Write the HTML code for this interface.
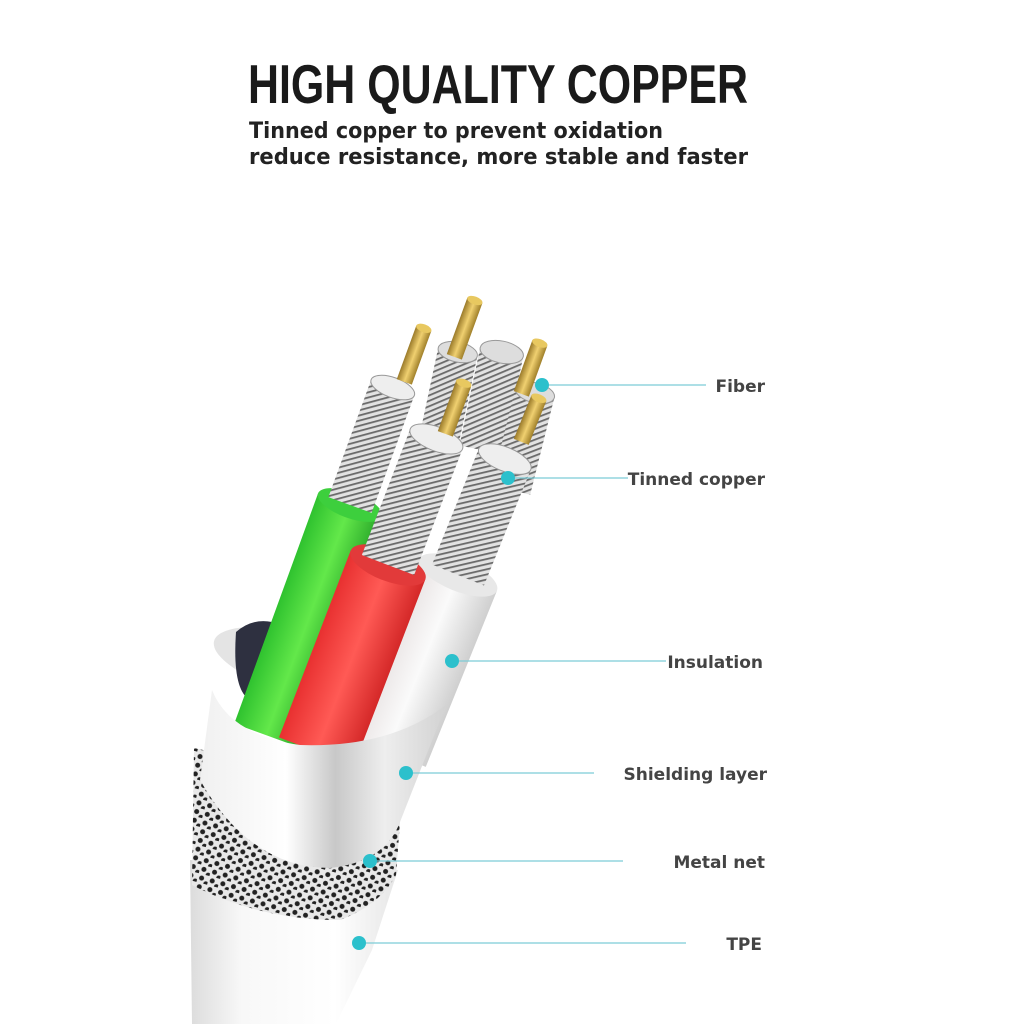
<!DOCTYPE html>
<html><head><meta charset="utf-8"><style>
html,body{margin:0;padding:0;background:#fff;}
svg{display:block;}
</style></head><body>
<svg width="1024" height="1024" viewBox="0 0 1024 1024" xmlns="http://www.w3.org/2000/svg">
<defs>
<pattern id="hatch" width="5" height="5" patternUnits="userSpaceOnUse" patternTransform="rotate(-35)">
<rect width="5" height="5" fill="#e2e2e2"/><rect width="5" height="1.8" fill="#6a6a6a"/>
</pattern>
<pattern id="dots" width="11" height="9" patternUnits="userSpaceOnUse" patternTransform="rotate(15)">
<rect width="11" height="9" fill="#e8e8e8"/><circle cx="4" cy="4" r="2.5" fill="#222"/><circle cx="9.5" cy="8.5" r="2.5" fill="#222"/>
</pattern>
<linearGradient id="jacket" x1="0" x2="1" y1="0" y2="0">
<stop offset="0" stop-color="#dcdcdc"/><stop offset=".25" stop-color="#f8f8f8"/><stop offset=".7" stop-color="#ffffff"/><stop offset="1" stop-color="#e6e6e6"/>
</linearGradient>
<linearGradient id="shield" x1="0" x2="1" y1="0" y2="0">
<stop offset="0" stop-color="#f0f0f0"/><stop offset=".35" stop-color="#ffffff"/><stop offset=".55" stop-color="#c8c8c8"/><stop offset=".75" stop-color="#eeeeee"/><stop offset="1" stop-color="#d2d2d2"/>
</linearGradient>
<linearGradient id="green" x1="0" x2="1"><stop offset="0" stop-color="#2fc22f"/><stop offset=".5" stop-color="#63e84a"/><stop offset="1" stop-color="#2aa92a"/></linearGradient>
<linearGradient id="red" x1="0" x2="1"><stop offset="0" stop-color="#e83030"/><stop offset=".5" stop-color="#ff5a55"/><stop offset="1" stop-color="#d42828"/></linearGradient>
<linearGradient id="white" x1="0" x2="1"><stop offset="0" stop-color="#e6e0e0"/><stop offset=".5" stop-color="#fafafa"/><stop offset="1" stop-color="#cfcfcf"/></linearGradient>
<linearGradient id="gold" x1="0" x2="1"><stop offset="0" stop-color="#9a7a2a"/><stop offset=".5" stop-color="#f0d070"/><stop offset="1" stop-color="#a0802a"/></linearGradient>
</defs>

<text x="248" y="103" font-family="Liberation Sans, sans-serif" font-weight="bold" font-size="55" fill="#1a1a1a" textLength="500" lengthAdjust="spacingAndGlyphs">HIGH QUALITY COPPER</text>
<text x="249" y="138" font-family="DejaVu Sans, sans-serif" font-weight="bold" font-size="22" fill="#222" textLength="414" lengthAdjust="spacingAndGlyphs">Tinned copper to prevent oxidation</text>
<text x="249" y="164" font-family="DejaVu Sans, sans-serif" font-weight="bold" font-size="22" fill="#222" textLength="499" lengthAdjust="spacingAndGlyphs">reduce resistance, more stable and faster</text>

<path d="M190 860 L398 870 L372 950 L336 1024 L192 1024 Z" fill="url(#jacket)"/>
<path d="M194 748 Q300 770 400 822 L396 875 Q380 905 340 920 Q260 920 192 885 Z" fill="url(#dots)"/>
<!-- shield interior -->
<ellipse cx="330" cy="672" rx="120" ry="34" transform="rotate(15 330 672)" fill="#e4e4e4"/>
<path d="M236 632 Q252 618 272 622 L250 700 Q232 690 236 632 Z" fill="#2e3040"/>

<g transform="translate(438 445) rotate(12)"><rect x="-20" y="-95" width="40" height="100" fill="url(#hatch)"/><ellipse cx="0" cy="-95" rx="20" ry="10" fill="#ddd" stroke="#999"/></g>
<g transform="translate(482 445) rotate(12)"><rect x="-22" y="-95" width="44" height="100" fill="url(#hatch)"/><ellipse cx="0" cy="-95" rx="22" ry="11" fill="#ddd" stroke="#999"/></g>
<g transform="translate(512 485) rotate(14)"><rect x="-20" y="-95" width="40" height="100" fill="url(#hatch)"/><ellipse cx="0" cy="-95" rx="20" ry="10" fill="#ddd" stroke="#999"/></g>
<g transform="translate(455 355) rotate(20)"><rect x="-8" y="-58" width="16" height="60" fill="url(#gold)"/><ellipse cx="0" cy="-58" rx="8" ry="4" fill="#e8c860"/></g>
<g transform="translate(522 392) rotate(20)"><rect x="-8" y="-52" width="16" height="54" fill="url(#gold)"/><ellipse cx="0" cy="-52" rx="8" ry="4" fill="#e8c860"/></g>

<g transform="translate(458 575) rotate(22)">
<rect x="-42" y="0" width="84" height="190" fill="url(#white)"/>
<ellipse cx="0" cy="0" rx="42" ry="16" fill="#e8e8e8"/>
<rect x="-28" y="-125" width="56" height="125" fill="url(#hatch)"/>
<ellipse cx="0" cy="-125" rx="28" ry="12" fill="#eee" stroke="#999"/>
</g>
<g transform="translate(522 440) rotate(22)"><rect x="-8" y="-45" width="16" height="47" fill="url(#gold)"/><ellipse cx="0" cy="-45" rx="8" ry="4" fill="#e8c860"/></g>

<g transform="translate(350 505) rotate(20)">
<rect x="-34" y="0" width="68" height="245" fill="url(#green)"/>
<ellipse cx="0" cy="0" rx="34" ry="13" fill="#3dcf3d"/>
<rect x="-23" y="-125" width="46" height="125" fill="url(#hatch)"/>
<ellipse cx="0" cy="-125" rx="23" ry="10" fill="#eee" stroke="#999"/>
</g>
<g transform="translate(405 380) rotate(20)"><rect x="-8" y="-55" width="16" height="57" fill="url(#gold)"/><ellipse cx="0" cy="-55" rx="8" ry="4" fill="#e8c860"/></g>

<g transform="translate(388 565) rotate(21)">
<rect x="-40" y="0" width="80" height="200" fill="url(#red)"/>
<ellipse cx="0" cy="0" rx="40" ry="16" fill="#e23a3a"/>
<rect x="-28" y="-135" width="56" height="135" fill="url(#hatch)"/>
<ellipse cx="0" cy="-135" rx="28" ry="12" fill="#eee" stroke="#999"/>
</g>
<g transform="translate(446 432) rotate(20)"><rect x="-8" y="-52" width="16" height="54" fill="url(#gold)"/><ellipse cx="0" cy="-52" rx="8" ry="4" fill="#e8c860"/></g>

<path d="M212 690 Q230 735 300 745 Q390 748 446 705 L400 822 Q385 862 330 868 Q250 868 200 780 Z" fill="url(#shield)"/>

<g stroke="#7cccd6" stroke-width="1.3">
<line x1="542" y1="385" x2="706" y2="385"/>
<line x1="508" y1="478" x2="628" y2="478"/>
<line x1="452" y1="661" x2="666" y2="661"/>
<line x1="406" y1="773" x2="594" y2="773"/>
<line x1="370" y1="861" x2="623" y2="861"/>
<line x1="359" y1="943" x2="686" y2="943"/>
</g>
<g fill="#2cc0cc">
<circle cx="542" cy="385" r="7"/><circle cx="508" cy="478" r="7"/><circle cx="452" cy="661" r="7"/>
<circle cx="406" cy="773" r="7"/><circle cx="370" cy="861" r="7"/><circle cx="359" cy="943" r="7"/>
</g>
<g font-family="DejaVu Sans, sans-serif" font-weight="bold" font-size="17" fill="#444" text-anchor="end">
<text x="765" y="392">Fiber</text>
<text x="765" y="485">Tinned copper</text>
<text x="763" y="668">Insulation</text>
<text x="767" y="780">Shielding layer</text>
<text x="765" y="868">Metal net</text>
<text x="762" y="950">TPE</text>
</g>
</svg>
</body></html>
